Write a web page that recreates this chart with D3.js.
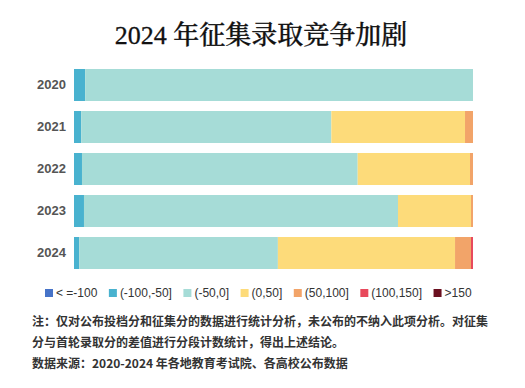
<!DOCTYPE html>
<html>
<head>
<meta charset="utf-8">
<script src="https://cdn.jsdelivr.net/npm/d3@7"></script>
<style>
	body { margin: 0; background: #fff; }
	svg { display: block; }
</style>
</head>
<body>
<svg id="chart" width="525" height="388"></svg>
<script>
// ============ 데이터 (각 구간 비율 %) ============
var years = ["2020", "2021", "2022", "2023", "2024"];
var bins = ["< =-100", "(-100,-50]", "(-50,0]", "(0,50]", "(50,100]", "(100,150]", ">150"];
var binColors = ["#4673c8", "#49b2cf", "#a6dcd7", "#fddb7a", "#f2a469", "#e8495c", "#6b1020"];

var le100   = [0, 0, 0, 0, 0];
var m100m50 = [2.8, 1.8, 2.0, 2.5, 1.3];
var m50z    = [97.2, 62.7, 69.1, 78.7, 49.8];
var z50     = [0, 33.5, 28.15, 18.3, 44.4];
var p50100  = [0, 2.0, 0.75, 0.5, 4.0];
var p100150 = [0, 0, 0, 0, 0.5];
var gt150   = [0, 0, 0, 0, 0];

var seriesValues = [le100, m100m50, m50z, z50, p50100, p100150, gt150];

var notes = [
	"注：仅对公布投档分和征集分的数据进行统计分析，未公布的不纳入此项分析。对征集",
	"分与首轮录取分的差值进行分段计数统计，得出上述结论。",
	"数据来源：2020-2024 年各地教育考试院、各高校公布数据"
];

// stack 용 테이블
var table = years.map(function(y, i) {
	var row = { year: y };
	bins.forEach(function(b, j) { row[b] = seriesValues[j][i]; });
	return row;
});

var svg = d3.select("#chart");

// 제목
svg.append("text")
	.attr("x", 261)
	.attr("y", 44)
	.attr("text-anchor", "middle")
	.style("font-family", "'Liberation Serif', 'Noto Serif CJK SC', 'Noto Sans CJK SC', serif")
	.style("font-size", "26px")
	.style("font-weight", "500")
	.style("fill", "#111")
	.style("stroke", "#111")
	.style("stroke-width", "0.3px")
	.text("2024 年征集录取竞争加剧");

var x = d3.scaleLinear()
	.domain([0, 100])
	.range([74, 473]);

var y = d3.scaleBand()
	.domain(years)
	.range([59, 279])
	.paddingInner(0.238)
	.paddingOuter(0.238);

var stack = d3.stack().keys(bins);
var layers = stack(table);

// 막대
svg.append("g")
	.selectAll("g")
	.data(layers)
	.enter().append("g")
	.attr("fill", function(d, i) { return binColors[i]; })
	.selectAll("rect")
	.data(function(d) { return d; })
	.enter().append("rect")
	.attr("x", function(d) { return x(d[0]); })
	.attr("y", function(d) { return y(d.data.year); })
	.attr("width", function(d) { return Math.max(0, x(d[1]) - x(d[0])); })
	.attr("height", y.bandwidth());

// Y축 (연도)
var yAxis = svg.append("g")
	.attr("transform", "translate(74,0)")
	.call(d3.axisLeft(y).tickSize(0).tickPadding(8));
yAxis.select(".domain").remove();
yAxis.selectAll("text")
	.style("font-family", "'Liberation Sans', Arial, sans-serif")
	.style("font-size", "13px")
	.style("font-weight", "bold")
	.style("fill", "#555");

// 범례
var legend = svg.append("g").attr("transform", "translate(0,293)");
var lx = 45;
bins.forEach(function(b, i) {
	legend.append("rect")
		.attr("x", lx)
		.attr("y", -4)
		.attr("width", 8)
		.attr("height", 8)
		.attr("fill", binColors[i]);
	var t = legend.append("text")
		.attr("x", lx + 11)
		.attr("dy", "0.35em")
		.style("font-family", "'Liberation Sans', Arial, sans-serif")
		.style("font-size", "12px")
		.style("fill", "#333")
		.text(b);
	lx += 11 + t.node().getComputedTextLength() + 11.5;
});

// 주석
svg.append("g")
	.selectAll("text")
	.data(notes)
	.enter().append("text")
	.attr("x", 32)
	.attr("y", function(d, i) { return 326 + i * 21; })
	.style("font-family", "'Noto Sans CJK SC', sans-serif")
	.style("font-size", "12px")
	.style("font-weight", "bold")
	.style("fill", "#333")
	.text(function(d) { return d; });
</script>
</body>
</html>
